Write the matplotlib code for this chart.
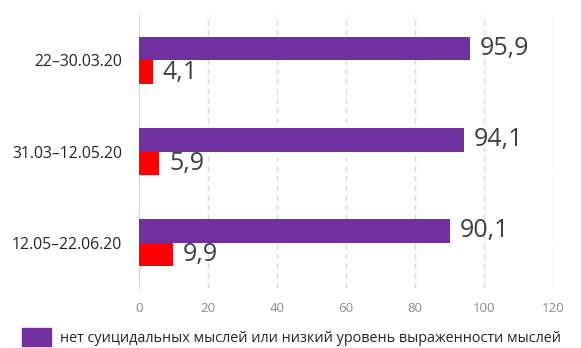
import matplotlib
matplotlib.use("Agg")
import matplotlib.pyplot as plt
import numpy as np
from matplotlib.patches import Patch

plt.rcParams["font.family"] = ["Open Sans", "DejaVu Sans"]

periods = ["22–30.03.20", "31.03–12.05.20", "12.05–22.06.20"]
no_thoughts = [95.9, 94.1, 90.1]
high_thoughts = [4.1, 5.9, 9.9]
legend_label = "нет суицидальных мыслей или низкий уровень выраженности мыслей"
x_ticks = [0, 20, 40, 60, 80, 100, 120]

PURPLE = "#7030A0"
RED = "#FF0000"

fig = plt.figure(figsize=(5.81, 3.48), dpi=100)
ax = fig.add_axes([0.239, 0.172, 0.713, 0.785])

y = np.arange(len(periods))
h = 0.26
bars1 = ax.barh(y - h / 2, no_thoughts, height=h, color=PURPLE, zorder=3)
bars2 = ax.barh(y + h / 2, high_thoughts, height=h, color=RED, zorder=3)

for bars, vals in ((bars1, no_thoughts), (bars2, high_thoughts)):
    for b, v in zip(bars, vals):
        ax.text(b.get_width() + 2.8, b.get_y() + b.get_height() / 2,
                f"{v:.1f}".replace(".", ","), va="center", ha="left",
                fontsize=18, color="#404040")

ax.set_xlim(0, 120)
ax.set_ylim(2.5, -0.5)
ax.set_xticks(x_ticks)
ax.set_yticks(y)
ax.set_yticklabels(periods, fontsize=11.3, color="#262626")
ax.tick_params(axis="x", labelsize=9.5, colors="#8c8c8c", length=0, pad=10)
ax.tick_params(axis="y", length=0, pad=12)
for s in ("top", "right", "bottom"):
    ax.spines[s].set_visible(False)
ax.spines["left"].set_color("#d9d9d9")
ax.xaxis.grid(True, linestyle=(0, (4, 3)), color="#d9d9d9", linewidth=1)
ax.set_axisbelow(True)

fig.legend(handles=[Patch(color=PURPLE, label=legend_label)],
           loc="upper left", bbox_to_anchor=(0.038, 0.058), frameon=False,
           fontsize=10.4, labelcolor="#262626", handlelength=2.0,
           handleheight=1.6, handletextpad=0.65,
           borderaxespad=0, borderpad=0)

fig.savefig("out.png", dpi=100)
